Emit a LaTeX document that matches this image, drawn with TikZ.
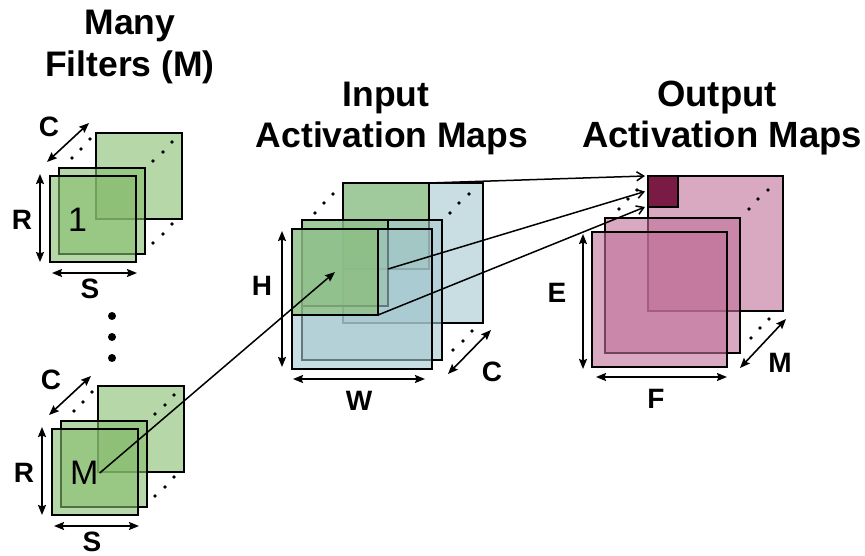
\documentclass[tikz,border=0pt]{standalone}
\usepackage{fontspec}
\setmainfont{Liberation Sans}
\usetikzlibrary{arrows.meta,calc}

\definecolor{fgreen}{RGB}{134,189,110}
\definecolor{iblue}{RGB}{165,200,207}
\definecolor{opink}{RGB}{192,112,152}
\definecolor{opix}{RGB}{122,27,69}

\tikzset{
  plane/.style={draw=black, line width=1.5pt, inner sep=0pt, outer sep=0pt,
    anchor=north west, fill opacity=0.6},
  filt/.style={plane, fill=fgreen, minimum width=86pt, minimum height=86pt},
  inmap/.style={plane, fill=iblue, minimum width=140pt, minimum height=140pt},
  outmap/.style={plane, fill=opink, minimum width=135pt, minimum height=135pt},
  outpix/.style={draw=black, line width=1.5pt, inner sep=0pt, outer sep=0pt,
    anchor=north west, fill=opix, minimum width=30pt, minimum height=31pt},
  dimarrow/.style={line width=1.6pt,
    {Stealth[length=10pt,width=8pt,inset=1.5pt]}-{Stealth[length=10pt,width=8pt,inset=1.5pt]}},
  feed/.style={line width=1.5pt, -{Straight Barb[length=7pt,width=9pt]}},
  pick/.style={line width=1.5pt, -{Stealth[length=10pt,width=8pt,inset=1.5pt]}},
  dimlabel/.style={font=\bfseries\fontsize{28}{28}\selectfont, inner sep=0pt},
  idxlabel/.style={font=\fontsize{34}{34}\selectfont, inner sep=0pt, anchor=west},
  title/.style={font=\bfseries\fontsize{35.5}{42}\selectfont, inner sep=0pt, anchor=base},
  smalldot/.style={fill=black},
}

% one stack of filter channels; #1 name prefix, (#2,#3) top-left of the front channel, #4 filter index
\newcommand\filterstack[4]{%
  \begin{scope}[shift={(#2,#3)}]
    \node[filt] (#1back) at (46,-43) {};
    \node[filt] (#1mid) at (9,-8) {};
    \node[filt] (#1front) at (0,0) {};
    \node[idxlabel] (#1idx) at (18,44) {#4};
    \foreach \p in {(22,-18),(31,-27),(40,-37),(103,-15),(113,-24),(122,-34),(103,67),(113,58),(122,48)}
      \fill[smalldot] \p circle (1.9pt);
    \coordinate (#1c0) at (-3,-14);
    \coordinate (#1c1) at (39,-53);
    \draw[dimarrow] (#1c0) -- (#1c1);
    \node[dimlabel] (#1clab) at (-1,-49) {C};
    \coordinate (#1r0) at (-10,-2);
    \coordinate (#1r1) at (-10,86);
    \draw[dimarrow] (#1r0) -- (#1r1);
    \node[dimlabel] (#1rlab) at (-28,44) {R};
    \coordinate (#1s0) at (2,97);
    \coordinate (#1s1) at (87,97);
    \draw[dimarrow] (#1s0) -- (#1s1);
    \node[dimlabel] (#1slab) at (40,113) {S};
  \end{scope}}

\begin{document}
\begin{tikzpicture}[x=1pt,y=-1pt]
  \useasboundingbox (0,0) rectangle (865,556);

  % titles
  \node[title] (t1a) at (130,35) {Many};
  \node[title] (t1b) at (130,77) {Filters (M)};
  \node[title] (t2a) at (386,107) {Input};
  \node[title] (t2b) at (392,148) {Activation Maps};
  \node[title, font=\bfseries\fontsize{36.5}{42}\selectfont] (t3a) at (717,107) {Output};
  \node[title, font=\bfseries\fontsize{36.5}{42}\selectfont] (t3b) at (722,148) {Activation Maps};

  % filters
  \filterstack{fa}{50}{176}{1}
  \filterstack{fm}{52}{429}{M}
  \foreach \y in {316,337,358}
    \fill[smalldot] (112,\y) circle (4pt);

  % input activation maps, each channel with the filter window at its corner
  \node[inmap] (iback) at (343,183) {};
  \node[filt] (igback) at (343,183) {};
  \node[inmap] (imid) at (302,220) {};
  \node[filt] (igmid) at (302,220) {};
  \node[inmap] (ifront) at (292,229) {};
  \node[filt] (igfront) at (292,229) {};
  \foreach \p in {(315,213),(324,203),(333,194),(450,213),(459,203),(469,194),(453,350),(463,341),(472,331)}
    \fill[smalldot] \p circle (1.9pt);
  \coordinate (ic0) at (448,374);
  \coordinate (ic1) at (491,330);
  \draw[dimarrow] (ic0) -- (ic1);
  \node[dimlabel] (iclab) at (492,372) {C};
  \coordinate (ih0) at (282,231);
  \coordinate (ih1) at (282,367);
  \draw[dimarrow] (ih0) -- (ih1);
  \node[dimlabel] (ihlab) at (262,286) {H};
  \coordinate (iw0) at (293,379);
  \coordinate (iw1) at (425,379);
  \draw[dimarrow] (iw0) -- (iw1);
  \node[dimlabel] (iwlab) at (359,401) {W};

  % output activation maps
  \node[outmap] (oback) at (648,176) {};
  \node[outpix] (opx) at (648,176) {};
  \node[outmap] (omid) at (605,218) {};
  \node[outmap] (ofront) at (592,232) {};
  \foreach \p in {(619,209),(628,199),(637,190),(749,209),(758,199),(768,190),(751,338),(760,328),(769,319)}
    \fill[smalldot] \p circle (1.9pt);
  \coordinate (om0) at (740,368);
  \coordinate (om1) at (786,319);
  \draw[dimarrow] (om0) -- (om1);
  \node[dimlabel] (omlab) at (780,363) {M};
  \coordinate (oe0) at (583,234);
  \coordinate (oe1) at (583,369);
  \draw[dimarrow] (oe0) -- (oe1);
  \node[dimlabel] (oelab) at (557,293) {E};
  \coordinate (of0) at (596,377);
  \coordinate (of1) at (727,377);
  \draw[dimarrow] (of0) -- (of1);
  \node[dimlabel] (oflab) at (656,399) {F};

  % filter M slides over the input; its window feeds one output pixel
  \draw[pick] ([xshift=1pt]fmidx.east) -- (igfront.center);
  \draw[feed] (igback.north east) -- ([xshift=-3pt]opx.north west);
  \draw[feed] (igmid.east |- igback.south) -- ([xshift=-3pt]opx.west);
  \draw[feed] (igfront.south east) -- ([xshift=-3pt]opx.south west);
\end{tikzpicture}
\end{document}
